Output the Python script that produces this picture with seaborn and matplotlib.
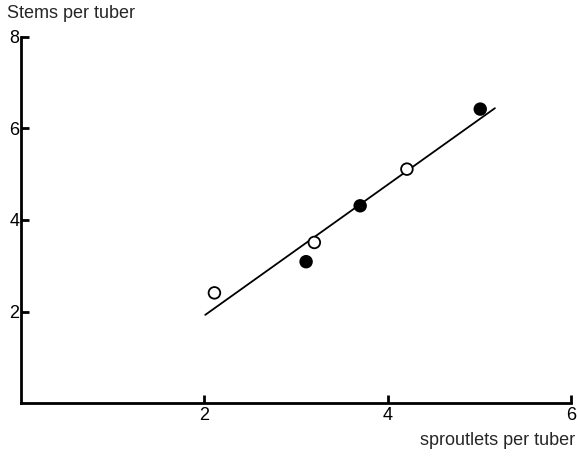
import matplotlib as mpl
from matplotlib import pyplot as plt
import seaborn as sns
import numpy as np
import pandas as pd

# sproutlets per tuber vs stems per tuber
open_x = [2.11, 3.20, 4.21]
open_y = [2.41, 3.51, 5.11]
filled_x = [3.11, 3.70, 5.01]
filled_y = [3.09, 4.31, 6.42]
fit_x = [2.01, 5.17]
fit_y = [1.93, 6.44]

pts = pd.concat([
    pd.DataFrame({"x": open_x, "y": open_y, "kind": "open"}),
    pd.DataFrame({"x": filled_x, "y": filled_y, "kind": "filled"}),
])
fit = pd.DataFrame({"x": fit_x, "y": fit_y})

sns.set_style("white")
plt.rcParams['font.family'] = ['Liberation Sans', 'DejaVu Sans']

fig = plt.figure(figsize=(5.77, 4.57), dpi=100)
ax = fig.add_axes([0.0364, 0.1175, 0.9532, 0.8022])

sns.lineplot(x="x", y="y", data=fit, color="black", linewidth=1.3, ax=ax)
sns.scatterplot(x="x", y="y", hue="kind", data=pts,
                palette={"open": "white", "filled": "black"},
                edgecolor="black", linewidth=1.3, s=70, legend=False,
                ax=ax, zorder=3)

ax.set_xlim(0, 6)
ax.set_ylim(0, 8)
ax.set_xticks([2, 4, 6])
ax.set_yticks([2, 4, 6, 8])
ax.tick_params(direction="in", length=6, width=2, labelsize=13,
               colors="black", bottom=True, left=True, pad=3)
ax.tick_params(axis="y", pad=1)
for side in ["top", "right"]:
    ax.spines[side].set_visible(False)
for side in ["left", "bottom"]:
    ax.spines[side].set_linewidth(2)
    ax.spines[side].set_color("black")

ax.set_xlabel("")
ax.set_ylabel("")
fig.text(0.012, 0.99, "Stems per tuber", fontsize=13, va="top", ha="left")
fig.text(0.997, 0.018, "sproutlets per tuber", fontsize=13, va="bottom", ha="right")

plt.savefig("out.png", dpi=100)
